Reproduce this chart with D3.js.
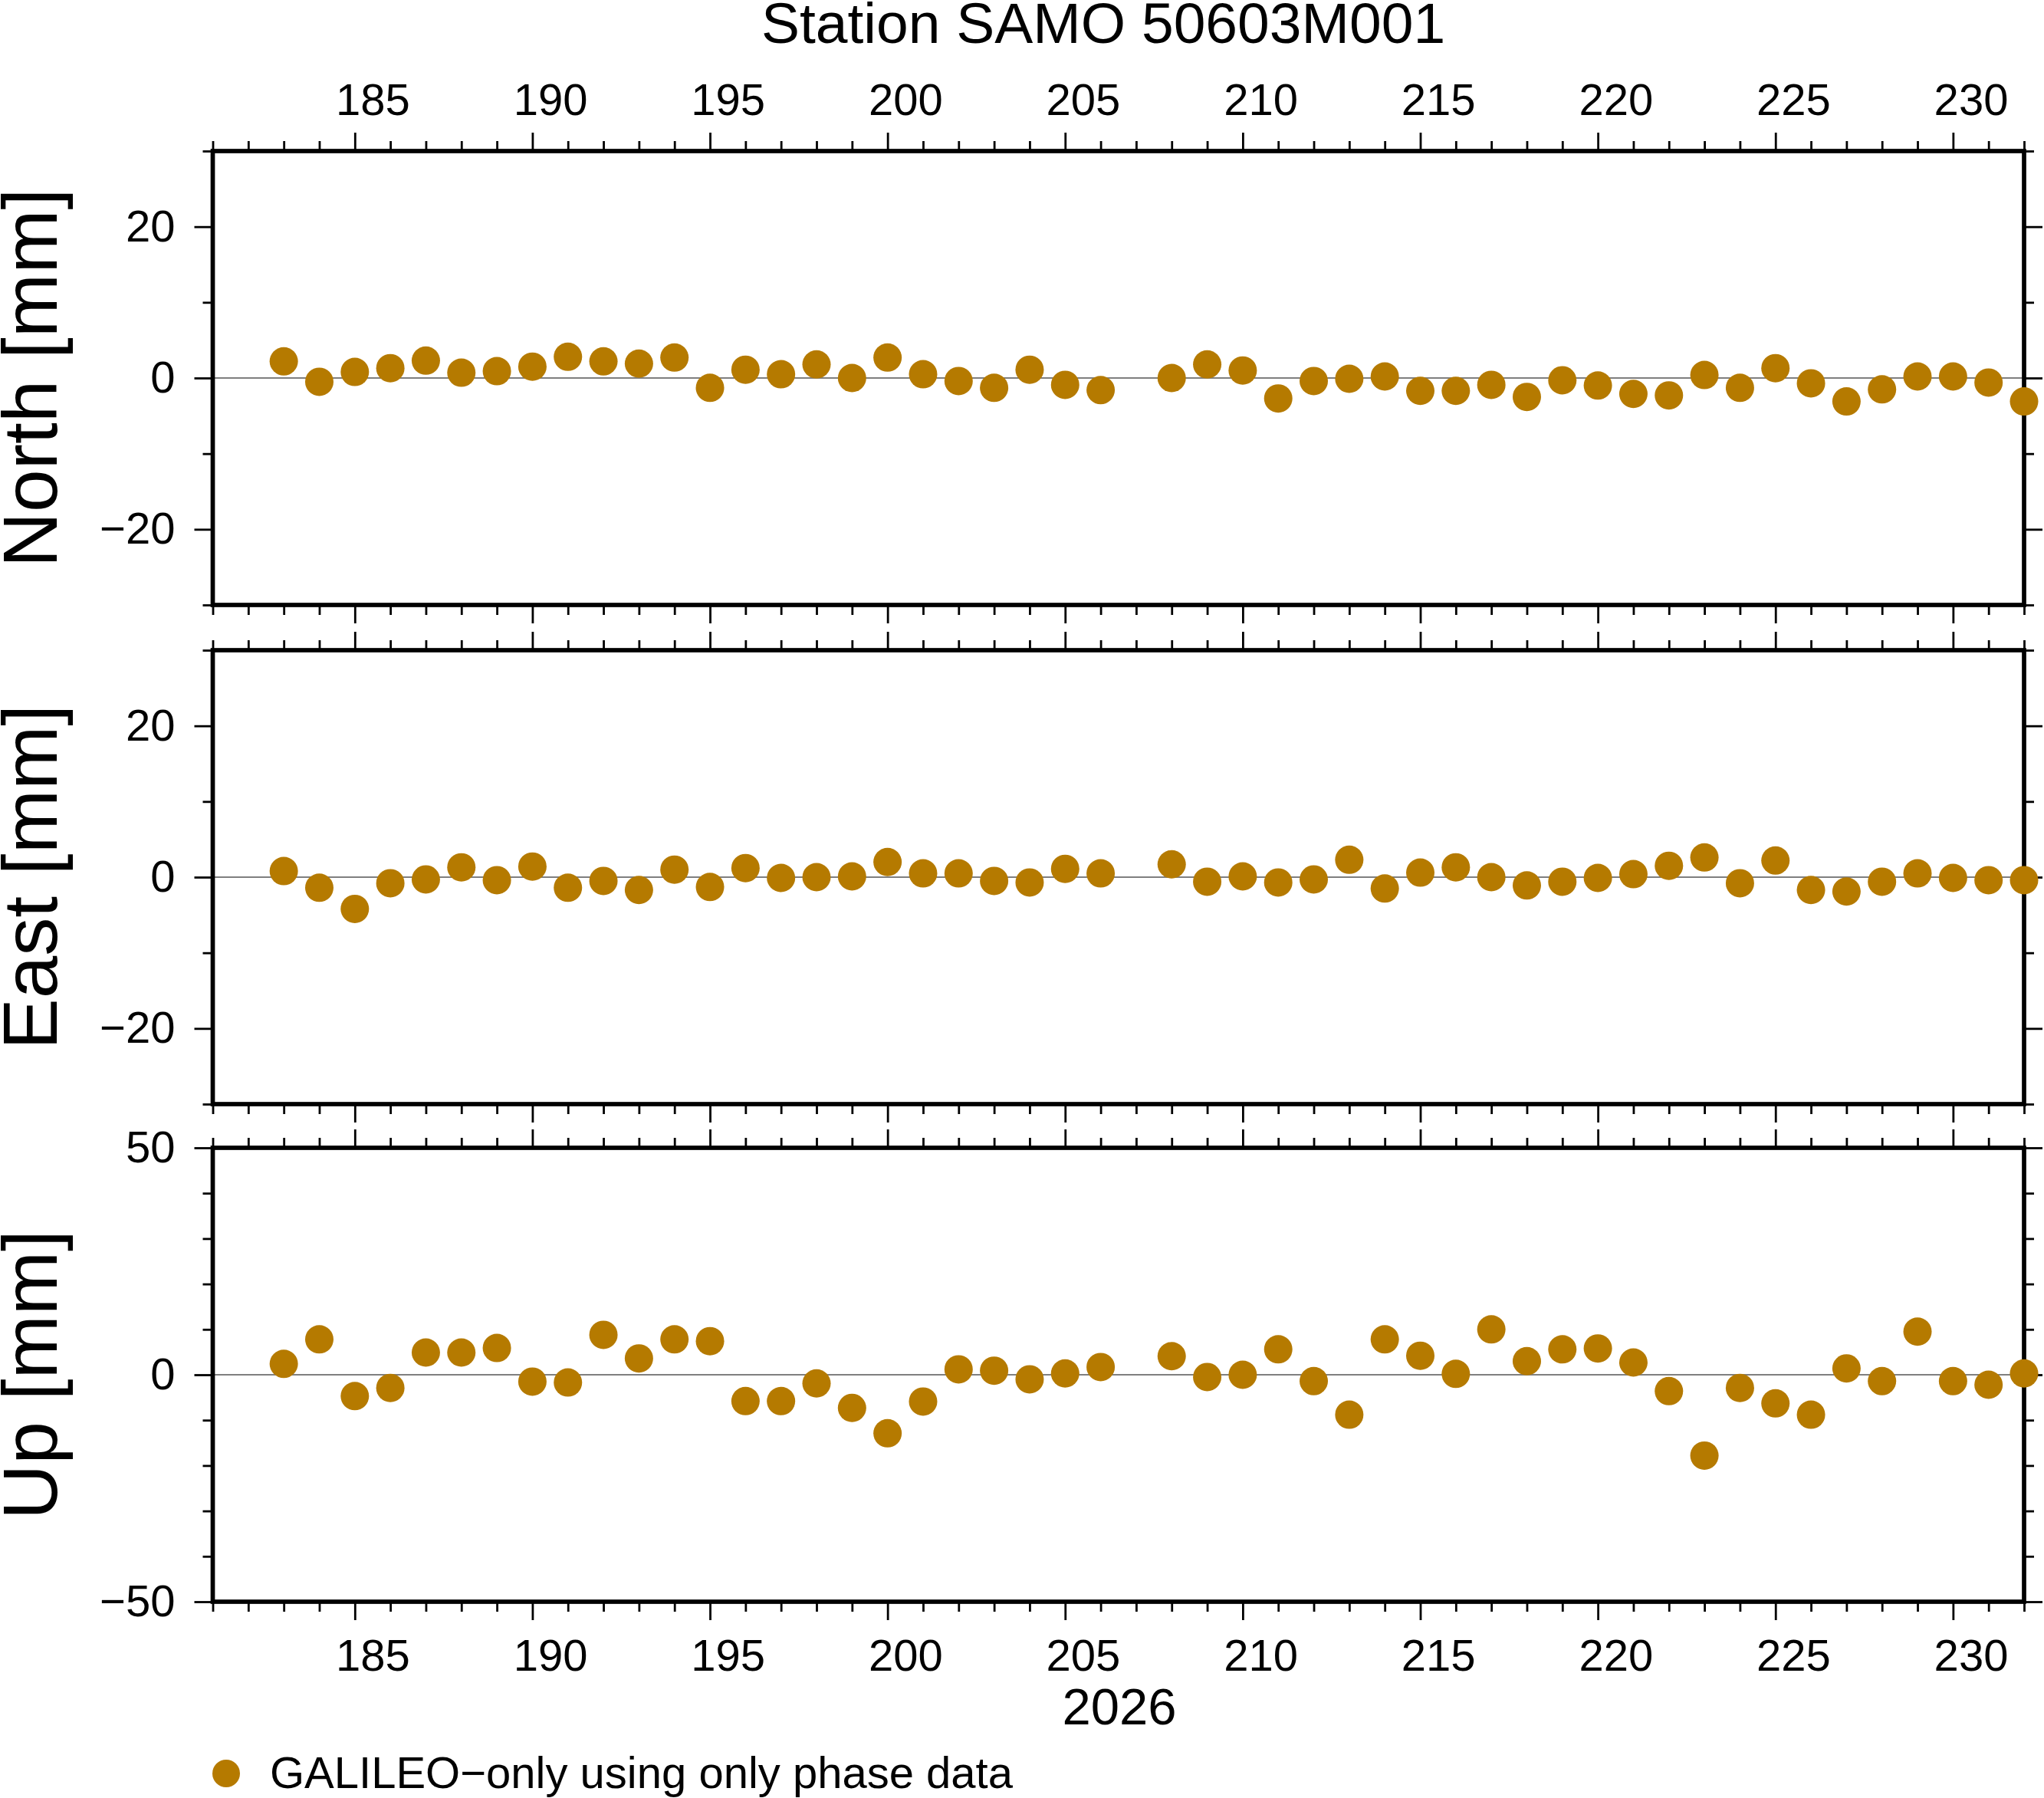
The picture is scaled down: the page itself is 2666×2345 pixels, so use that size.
<!DOCTYPE html>
<html>
<head>
<meta charset="utf-8">
<script src="https://cdn.jsdelivr.net/npm/d3@7"></script>
<style>
  body { margin: 0; background: #fff; }
  svg { display: block; font-family: "Liberation Sans", Arial, Helvetica, sans-serif; }
</style>
</head>
<body>
<svg id="chart"></svg>
<script>
const width = 2666;
const height = 2345;

// day of year 2026, day 207 missing
const days = [183,184,185,186,187,188,189,190,191,192,193,194,195,196,197,198,199,200,201,202,203,204,205,206,
              208,209,210,211,212,213,214,215,216,217,218,219,220,221,222,223,224,225,226,227,228,229,230,231,232];

const north = [2.2,-0.5,0.8,1.3,2.3,0.7,0.9,1.5,2.8,2.2,1.9,2.7,-1.3,1.1,0.5,1.8,0.0,2.7,0.5,-0.4,-1.3,1.1,-0.9,-1.6,
               0.0,1.8,1.0,-2.7,-0.4,-0.1,0.2,-1.7,-1.7,-0.9,-2.5,-0.3,-1.0,-2.1,-2.3,0.4,-1.3,1.3,-0.7,-3.1,-1.5,0.2,0.2,-0.6,-3.1];

const east = [0.8,-1.4,-4.2,-0.8,-0.3,1.3,-0.4,1.4,-1.4,-0.5,-1.7,1.0,-1.3,1.2,-0.1,0.0,0.1,2.0,0.5,0.5,-0.5,-0.7,1.1,0.5,
              1.7,-0.6,0.1,-0.7,-0.3,2.3,-1.5,0.6,1.3,0.0,-1.1,-0.6,-0.1,0.4,1.5,2.6,-0.8,2.2,-1.7,-1.9,-0.6,0.5,-0.1,-0.4,-0.4];

const up = [2.4,7.8,-4.7,-2.9,4.9,4.9,5.9,-1.5,-1.7,8.8,3.6,7.8,7.4,-5.8,-5.8,-1.9,-7.3,-12.9,-5.9,1.2,0.9,-1.0,0.3,1.7,
            4.1,-0.5,0.0,5.6,-1.4,-8.8,7.8,4.2,0.2,10.0,3.0,5.6,5.8,2.7,-3.6,-17.8,-2.9,-6.3,-8.8,1.4,-1.4,9.5,-1.4,-2.2,0.3];

const panels = [
  { label: "North [mm]", values: north, domain: [-30, 30], major: [-20, 0, 20], minor: [-30, -10, 10, 30] },
  { label: "East [mm]",  values: east,  domain: [-30, 30], major: [-20, 0, 20], minor: [-30, -10, 10, 30] },
  { label: "Up [mm]",    values: up,    domain: [-50, 50], major: [-50, 0, 50], minor: [-40, -30, -20, -10, 10, 20, 30, 40] }
];

const title = "Station SAMO 50603M001";
const yearLabel = "2026";
const legendLabel = "GALILEO\u2212only using only phase data";

const dotColor = "#b57a00";
const left = 277.5, right = 2640;
const panelTops = [197, 848, 1497];
const panelH = 592;
const majorLen = 24, minorLen = 13;

const svg = d3.select("#chart").attr("width", width).attr("height", height);

const x = d3.scaleLinear().domain([181, 232]).range([left, right]);
const dayMajor = d3.range(185, 231, 5);
const dayMinor = d3.range(181, 233, 1).filter(d => d % 5 !== 0);

function styleAxis(g, showText) {
  g.select(".domain").remove();
  g.selectAll(".tick line").attr("stroke", "#000").attr("stroke-width", 2.8);
  g.selectAll(".tick text").attr("fill", "#000").style("font-size", "58px");
  if (!showText) g.selectAll(".tick text").remove();
}

panels.forEach((p, i) => {
  const top = panelTops[i];
  const bottom = top + panelH;
  const y = d3.scaleLinear().domain(p.domain).range([bottom, top]);
  const g = svg.append("g").attr("class", "panel");

  // horizontal axes (top / bottom), major + minor ticks
  [["top", top], ["bottom", bottom]].forEach(([side, yy]) => {
    const mk = side === "top" ? d3.axisTop : d3.axisBottom;
    const labels = (side === "top" && i === 0) || (side === "bottom" && i === 2);
    g.append("g").attr("transform", `translate(0,${yy})`)
      .call(mk(x).tickValues(dayMinor).tickSize(minorLen).tickFormat(""))
      .call(a => styleAxis(a, false));
    g.append("g").attr("transform", `translate(0,${yy})`)
      .call(mk(x).tickValues(dayMajor).tickSize(majorLen).tickFormat(""))
      .call(a => styleAxis(a, false));
    if (labels) {
      // day labels sit in the middle of the day interval
      g.append("g").attr("transform", `translate(0,${yy})`)
        .call(mk(x).tickValues(dayMajor.map(d => d + 0.5)).tickSize(majorLen)
          .tickPadding(side === "top" ? 23 : 25).tickFormat(d => d - 0.5))
        .call(a => { styleAxis(a, true); a.selectAll(".tick line").remove(); });
    }
  });

  // vertical axes (left with labels, right without)
  [["left", left], ["right", right]].forEach(([side, xx]) => {
    const mk = side === "left" ? d3.axisLeft : d3.axisRight;
    g.append("g").attr("transform", `translate(${xx},0)`)
      .call(mk(y).tickValues(p.minor).tickSize(minorLen).tickFormat(""))
      .call(a => styleAxis(a, false));
    g.append("g").attr("transform", `translate(${xx},0)`)
      .call(mk(y).tickValues(p.major).tickSize(majorLen).tickPadding(25).tickFormat(d3.format("d")))
      .call(a => styleAxis(a, side === "left"));
  });

  // zero line
  g.append("line")
    .attr("x1", left).attr("x2", right)
    .attr("y1", y(0)).attr("y2", y(0))
    .attr("stroke", "#000").attr("stroke-width", 1.2);

  // frame
  g.append("rect")
    .attr("x", left).attr("y", top)
    .attr("width", right - left).attr("height", panelH)
    .attr("fill", "none").attr("stroke", "#000").attr("stroke-width", 5.7);

  // points
  g.selectAll("circle")
    .data(days.map((d, k) => ({ day: d, v: p.values[k] })))
    .enter().append("circle")
    .attr("cx", d => x(d.day))
    .attr("cy", d => y(d.v))
    .attr("r", 18.5)
    .attr("fill", dotColor);

  // y label
  g.append("text")
    .attr("transform", `translate(74,${(top + bottom) / 2}) rotate(-90)`)
    .attr("text-anchor", "middle")
    .style("font-size", "100px")
    .text(p.label);
});

svg.append("text")
  .attr("x", 1439).attr("y", 56)
  .attr("text-anchor", "middle")
  .style("font-size", "75px")
  .text(title);

svg.append("text")
  .attr("x", 1460).attr("y", 2249)
  .attr("text-anchor", "middle")
  .style("font-size", "67px")
  .text(yearLabel);

// legend
svg.append("circle").attr("cx", 295).attr("cy", 2313).attr("r", 18).attr("fill", dotColor);
svg.append("text")
  .attr("x", 352).attr("y", 2332)
  .style("font-size", "58px")
  .text(legendLabel);
</script>
</body>
</html>
